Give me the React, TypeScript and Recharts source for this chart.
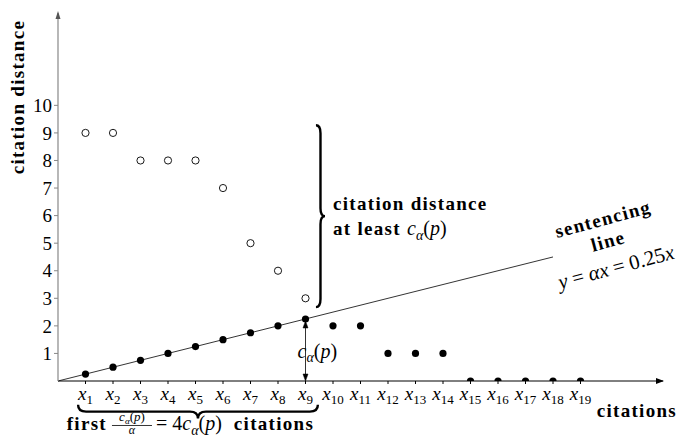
import React from 'react'
import {
  ComposedChart, Scatter, XAxis, YAxis, ReferenceLine, ReferenceDot, ReferenceArea
} from 'recharts'

// ── Data ─────────────────────────────────────────────────────────────────────
const positions = [1, 2, 3, 4, 5, 6, 7, 8, 9, 10, 11, 12, 13, 14, 15, 16, 17, 18, 19]
const yTicks = [1, 2, 3, 4, 5, 6, 7, 8, 9, 10]
// open circles: citation distance of the first papers
const distances = [9, 9, 8, 8, 8, 7, 5, 4, 3]
// filled dots sitting on the sentencing line (x1..x9)
const onLine = [0.25, 0.5, 0.75, 1, 1.25, 1.5, 1.75, 2, 2.25]
// filled dots for x10..x19
const tail = [2, 2, 1, 1, 1, 0, 0, 0, 0, 0]
const alpha = 0.25
const lineEnd = 18

const X_MAX = 22
const Y_MAX = 13.35

const openData = distances.map((d, i) => ({ x: positions[i], y: d }))
const filledData = [
  ...onLine.map((d, i) => ({ x: positions[i], y: d })),
  ...tail.map((d, i) => ({ x: positions[i + onLine.length], y: d })),
]

const SERIF = "'Liberation Serif', serif"
// bold labels: Liberation Serif is narrower than the reference's bold face, so spread it a little
const boldText = { fontFamily: SERIF, fontWeight: 'bold' as const, fontSize: 19, letterSpacing: 1.3, fill: '#000' }

// ── helpers ──────────────────────────────────────────────────────────────────
const XTick = ({ x, y, payload }: any) => (
  <text x={x} y={y + 14} textAnchor="middle" fontFamily={SERIF} fontSize={19} fill="#000">
    <tspan fontStyle="italic">x</tspan>
    <tspan fontSize={13} dy={4}>{payload.value}</tspan>
  </text>
)

// c_α(p) as tspans, to be placed inside a <text>
const cAlphaSpans = (size: number) => [
  <tspan key="c" fontFamily={SERIF} fontWeight="normal" letterSpacing={0} fontStyle="italic" fontSize={size}>c</tspan>,
  <tspan key="a" fontFamily={SERIF} fontWeight="normal" letterSpacing={0} fontStyle="italic" fontSize={size * 0.7} dy={size * 0.22}>α</tspan>,
  <tspan key="o" fontFamily={SERIF} fontWeight="normal" letterSpacing={0} fontSize={size} dy={-size * 0.22}>(</tspan>,
  <tspan key="p" fontFamily={SERIF} fontWeight="normal" letterSpacing={0} fontStyle="italic" fontSize={size}>p</tspan>,
  <tspan key="cl" fontFamily={SERIF} fontWeight="normal" letterSpacing={0} fontSize={size}>)</tspan>,
]

// vertical brace, tip pointing right
const VBrace = ({ x, y, width, height }: any) => {
  const x0 = x, w = width, y1 = y, y2 = y + height, ym = y + height / 2, r = 8
  const xm = x0 + w / 2
  const d = `M${x0},${y1} Q${xm},${y1} ${xm},${y1 + r} L${xm},${ym - r} Q${xm},${ym} ${x0 + w},${ym}` +
    ` Q${xm},${ym} ${xm},${ym + r} L${xm},${y2 - r} Q${xm},${y2} ${x0},${y2}`
  return (
    <g>
      <path d={d} fill="none" stroke="#000" strokeWidth={2.4} />
      <text x={x0 + w + 8} y={ym - 6} {...boldText}>citation distance</text>
      <text x={x0 + w + 8} y={ym + 19} {...boldText}>at least {cAlphaSpans(20)}</text>
    </g>
  )
}

// horizontal brace, tip pointing down
const HBrace = ({ x, y, width, height }: any) => {
  const x1 = x, x2 = x + width, y0 = y, h = height, xm = x + width / 2, r = 8
  const ymid = y0 + h / 2
  const d = `M${x1},${y0} Q${x1},${ymid} ${x1 + r},${ymid} L${xm - r},${ymid} Q${xm},${ymid} ${xm},${y0 + h}` +
    ` Q${xm},${ymid} ${xm + r},${ymid} L${x2 - r},${ymid} Q${x2},${ymid} ${x2},${y0}`
  const base = y0 + h + 12
  const fc = xm - 66 // fraction centre
  return (
    <g>
      <path d={d} fill="none" stroke="#000" strokeWidth={2.4} />
      <text x={fc - 25} y={base} textAnchor="end" {...boldText}>first</text>
      <text x={fc} y={base - 9} textAnchor="middle" fill="#000">{cAlphaSpans(13)}</text>
      <line x1={fc - 20} x2={fc + 20} y1={base - 5} y2={base - 5} stroke="#000" strokeWidth={0.8} />
      <text x={fc} y={base + 4} textAnchor="middle" fontFamily={SERIF} fontStyle="italic" fontSize={12} fill="#000">α</text>
      <text x={fc + 24} y={base} fontFamily={SERIF} fontSize={20} fill="#000">
        <tspan>=</tspan>
        <tspan dx={5}>4</tspan>
        {cAlphaSpans(20)}
        <tspan dx={12} {...boldText}>citations</tspan>
      </text>
    </g>
  )
}

const TwoWayArrow = ({ x1, y1, x2, y2 }: any) => (
  <g stroke="#000" fill="#000">
    <line x1={x1} y1={y1 + 3} x2={x2} y2={y2 - 3} strokeWidth={0.8} />
    <path d={`M${x2},${y2} L${x2 - 2.5},${y2 - 7} L${x2 + 2.5},${y2 - 7} Z`} strokeWidth={0.5} />
    <path d={`M${x1},${y1 + 2} L${x1 - 2.5},${y1 + 9} L${x1 + 2.5},${y1 + 9} Z`} strokeWidth={0.5} />
  </g>
)

export default function App() {
  return (
    <div style={{ width: 680, height: 437, background: '#fff' }}>
      <style>{'body{margin:0}'}</style>
      <ComposedChart width={680} height={437} margin={{ top: 13, right: 17, left: 0, bottom: 0 }}>
        <XAxis
          type="number" dataKey="x" domain={[0, X_MAX]} ticks={positions} interval={0}
          axisLine={{ stroke: '#000', strokeWidth: 1 }} tickLine={{ stroke: '#000' }} tickSize={3}
          tick={<XTick />} height={56} allowDataOverflow
        />
        <YAxis
          type="number" dataKey="y" domain={[0, Y_MAX]} ticks={yTicks} interval={0} width={58}
          axisLine={{ stroke: '#888', strokeWidth: 1.2 }} tickLine={{ stroke: '#888' }} tickSize={4}
          tick={{ fill: '#000', fontSize: 19, fontFamily: SERIF }} allowDataOverflow
        />

        {/* sentencing line y = 0.25x */}
        <ReferenceLine segment={[{ x: 0, y: 0 }, { x: lineEnd, y: alpha * lineEnd }]} stroke="#000" strokeWidth={0.8} ifOverflow="visible" />

        {/* c_alpha(p) gap at x9 */}
        <ReferenceLine
          segment={[{ x: 9, y: onLine[onLine.length - 1] }, { x: 9, y: 0 }]}
          shape={<TwoWayArrow />} ifOverflow="visible"
        />
        <ReferenceDot x={9} y={0} r={0} ifOverflow="visible"
          shape={(p: any) => <text x={p.cx - 8} y={p.cy - 23} fill="#000">{cAlphaSpans(20)}</text>} />

        <ReferenceArea x1={9.38} x2={9.71} y1={2.68} y2={9.28} ifOverflow="visible" shape={<VBrace />} />
        <ReferenceArea x1={0.73} x2={9.45} y1={-0.86} y2={-1.36} ifOverflow="visible" shape={<HBrace />} />

        {/* axis arrowheads */}
        <ReferenceDot x={X_MAX} y={0} r={0} ifOverflow="visible"
          shape={(p: any) => <path d={`M${p.cx + 1},${p.cy} L${p.cx - 7},${p.cy - 3} L${p.cx - 7},${p.cy + 3} Z`} fill="#000" />} />
        <ReferenceDot x={0} y={Y_MAX} r={0} ifOverflow="visible"
          shape={(p: any) => <path d={`M${p.cx},${p.cy - 2} L${p.cx - 2.5},${p.cy + 6} L${p.cx + 2.5},${p.cy + 6} Z`} fill="#555" />} />

        {/* axis titles */}
        <ReferenceDot x={0} y={10.3} r={0} ifOverflow="visible"
          shape={(p: any) => (
            <text x={p.cx - 40} y={p.cy} transform={`rotate(-90 ${p.cx - 40} ${p.cy})`} textAnchor="middle"
              dominantBaseline="central" {...boldText}>citation distance</text>
          )} />
        <ReferenceDot x={X_MAX} y={0} r={0} ifOverflow="visible"
          shape={(p: any) => (
            <text x={p.cx + 14} y={p.cy + 36} textAnchor="end" {...boldText}>citations</text>
          )} />

        {/* sentencing line labels */}
        <ReferenceDot x={lineEnd} y={alpha * lineEnd} r={0} ifOverflow="visible"
          shape={(p: any) => (
            <g>
              <text x={p.cx + 50} y={p.cy - 38} transform={`rotate(-15 ${p.cx + 50} ${p.cy - 38})`} textAnchor="middle"
                dominantBaseline="central" {...boldText}>sentencing</text>
              <text x={p.cx + 55} y={p.cy - 16} transform={`rotate(-15 ${p.cx + 55} ${p.cy - 16})`} textAnchor="middle"
                dominantBaseline="central" {...boldText}>line</text>
              <text x={p.cx + 63} y={p.cy + 10} transform={`rotate(-15 ${p.cx + 63} ${p.cy + 10})`} textAnchor="middle"
                dominantBaseline="central" fontFamily={SERIF} fontSize={21} fill="#000">
                <tspan fontStyle="italic">y</tspan><tspan dx={5}>=</tspan><tspan dx={5} fontStyle="italic">αx</tspan>
                <tspan dx={5}>=</tspan><tspan dx={5}>0.25</tspan><tspan fontStyle="italic">x</tspan>
              </text>
            </g>
          )} />

        <Scatter data={openData} isAnimationActive={false}
          shape={(p: any) => <circle cx={p.cx} cy={p.cy} r={3.6} fill="#fff" stroke="#000" strokeWidth={0.9} />} />
        <Scatter data={filledData} isAnimationActive={false}
          shape={(p: any) => <circle cx={p.cx} cy={p.cy} r={3.6} fill="#000" />} />
      </ComposedChart>
    </div>
  )
}
